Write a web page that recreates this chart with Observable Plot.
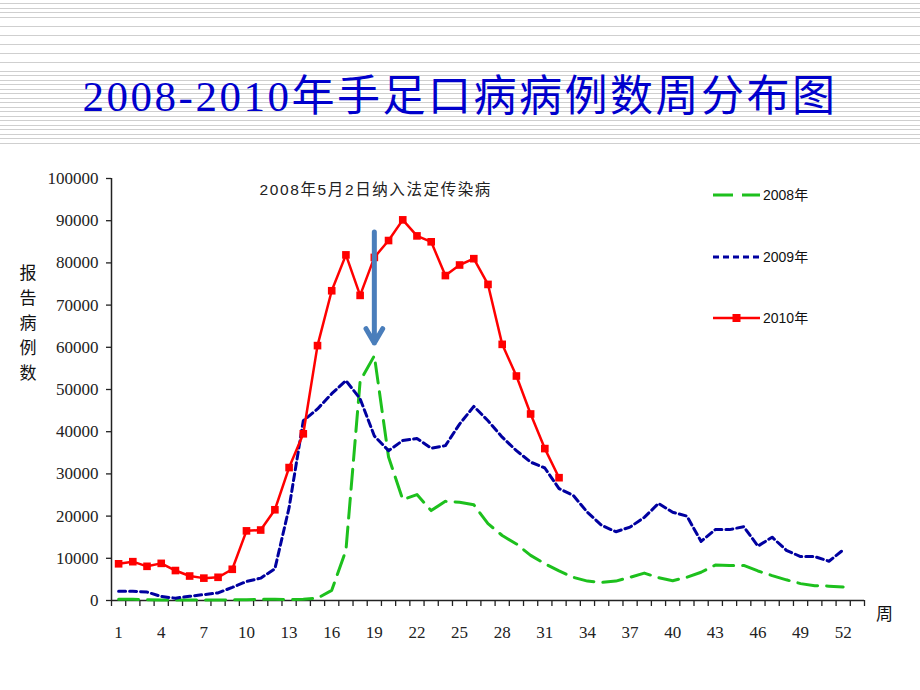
<!DOCTYPE html>
<html>
<head>
<meta charset="utf-8">
<script src="https://cdn.jsdelivr.net/npm/d3@7"></script>
<script src="https://cdn.jsdelivr.net/npm/@observablehq/plot@0.6"></script>
<style>
  html, body { margin: 0; padding: 0; background: #fff; }
  #page { position: relative; width: 920px; height: 690px; overflow: hidden; background: #fff; }
  #title {
    height: 145px; width: 920px;
    background: repeating-linear-gradient(to bottom, #fff 0px, #fff 3.5px, #cfcfcf 3.5px, #cfcfcf 4.5px);
    display: flex; align-items: flex-start; justify-content: center;
  }
  #title span {
    margin-top: 72px; line-height: 50px;
    font-family: "Liberation Serif", "DejaVu Serif", "Noto Sans CJK SC", serif;
    font-size: 43px; color: #0000CC; letter-spacing: 2.5px;
  }
  #ylabel { position: absolute; left: 18px; top: 259px; width: 20px;
    font-family: "Noto Sans CJK SC", sans-serif; font-size: 17px; line-height: 25px; color: #111; text-align: center; }
  #xunit { position: absolute; left: 876px; top: 600px;
    font-family: "Noto Sans CJK SC", sans-serif; font-size: 17px; color: #111; }
  .leg { position: absolute; left: 710px; width: 150px; height: 20px; }
  .leg span { position: absolute; left: 53px; top: 0px; font-family: "Liberation Sans Narrow", "Liberation Sans", "Noto Sans CJK SC", sans-serif; font-size: 14px; line-height: 20px; color: #111; }
  .leg svg { position: absolute; left: 0; top: 0; }
  #chart { position: absolute; left: 0; top: 145px; }
</style>
</head>
<body>
<div id="page">
  <div id="title"><span>2008-2010年手足口病病例数周分布图</span></div>
  <div id="chart"></div>
  <div id="ylabel">报<br>告<br>病<br>例<br>数</div>
  <div id="xunit">周</div>
  <div id="legend"></div>
</div>
<script>
// ---- data ----
const years = ["2008年", "2009年", "2010年"];
const weeks = d3.range(1, 53);
const cases2008 = [300, 300, 200, 100, 100, 100, 100, 100, 150, 200, 300, 300, 200, 300, 550, 2400, 11900, 52000, 58000, 34000,
  23900, 25100, 21300, 23500, 23300, 22700, 18200, 15400, 13400, 10700, 8700, 7000, 5500, 4600, 4300, 4600, 5500, 6500, 5400, 4700,
  5500, 6700, 8400, 8300, 8300, 7000, 5900, 4900, 4000, 3500, 3400, 3200];
const cases2009 = [2200, 2200, 2000, 950, 550, 1000, 1400, 1800, 3100, 4500, 5300, 7500, 22000, 42600, 45400, 49000, 52100, 47800, 39000, 35500,
  37900, 38400, 36100, 36700, 41800, 46000, 42600, 38700, 35500, 32800, 31400, 26500, 24900, 20900, 17800, 16300, 17400, 19700, 23000, 20900,
  20000, 14000, 16800, 16800, 17500, 12900, 15000, 11900, 10400, 10400, 9300, 12000];
const cases2010 = [8700, 9200, 8100, 8800, 7100, 5800, 5300, 5500, 7400, 16500, 16700, 21500, 31500, 39500, 60400, 73400, 81900, 72300, 81300, 85300,
  90200, 86400, 85000, 77000, 79500, 81000, 74900, 60700, 53200, 44200, 36000, 29100];
const yTicks = [0, 10000, 20000, 30000, 40000, 50000, 60000, 70000, 80000, 90000, 100000];
const xTickLabels = [1, 4, 7, 10, 13, 16, 19, 22, 25, 28, 31, 34, 37, 40, 43, 46, 49, 52];
const annotationText = ["2008年5月2日纳入法定传染病"];
const annotationWeek = [19.1];
const annotationValue = [97200];
const arrowWeek = [19];
const arrowFrom = [87300];
const arrowTo = [61000];

const colors = {"2008年": "#1DC01D", "2009年": "#0000A0", "2010年": "#FF0000"};

const toRows = (arr) => arr.map((v, i) => ({week: weeks[i], value: v}));
const d2008 = toRows(cases2008), d2009 = toRows(cases2009), d2010 = toRows(cases2010);
const annotations = annotationText.map((t, i) => ({text: t, week: annotationWeek[i], value: annotationValue[i]}));
const arrows = arrowWeek.map((w, i) => ({week: w, from: arrowFrom[i], to: arrowTo[i]}));

const tickFont = "'Liberation Serif', 'DejaVu Serif', serif";

const chart = Plot.plot({
  width: 920,
  height: 545,
  marginLeft: 111,
  marginRight: 56,
  marginTop: 33,
  marginBottom: 90,
  x: {domain: [0.5, 53.5]},
  y: {domain: [0, 100000]},
  style: {background: "transparent", color: "#222", fontFamily: tickFont, fontSize: "17px", overflow: "visible"},
  marks: [
    Plot.axisY({ticks: yTicks, tickSize: 5, tickPadding: 8, tickFormat: d => String(d), label: null, strokeWidth: 1.3, fontSize: 17}),
    Plot.axisX({ticks: d3.range(0.5, 54, 1), tickSize: 6, tickFormat: () => "", label: null, strokeWidth: 1.3}),
    Plot.axisX({ticks: xTickLabels, tickSize: 0, tickPadding: 25, label: null, fontSize: 17}),
    Plot.ruleY([0], {stroke: "#222", strokeWidth: 1.5}),
    Plot.ruleX([0.5], {stroke: "#222", strokeWidth: 1.5}),
    Plot.line(d2008, {x: "week", y: "value", stroke: colors["2008年"], strokeWidth: 3, strokeDasharray: "20,9"}),
    Plot.line(d2009, {x: "week", y: "value", stroke: colors["2009年"], strokeWidth: 3, strokeDasharray: "7,4"}),
    Plot.line(d2010, {x: "week", y: "value", stroke: colors["2010年"], strokeWidth: 2.5}),
    Plot.dot(d2010, {x: "week", y: "value", symbol: "square", r: 4.3, fill: colors["2010年"], stroke: "none"}),
    Plot.arrow(arrows, {x1: "week", x2: "week", y1: "from", y2: "to", stroke: "#4A7EBB", strokeWidth: 5, headLength: 5, headAngle: 60}),
    Plot.text(annotations, {x: "week", y: "value", text: "text", fill: "#222",
      fontFamily: "'Liberation Sans', 'Noto Sans CJK SC', sans-serif", fontSize: 15.5})
  ]
});
d3.select(chart).selectAll("g[aria-label='text'] text").attr("letter-spacing", "1.6px");
document.getElementById("chart").appendChild(chart);

// ---- legend ----
const legendTops = [185, 247, 308];
const legendEl = document.getElementById("legend");
years.forEach((yr, i) => {
  const div = document.createElement("div");
  div.className = "leg";
  div.style.top = legendTops[i] + "px";
  let inner = `<svg width="52" height="20">`;
  if (i === 0) inner += `<line x1="3" x2="50" y1="10" y2="10" stroke="${colors[yr]}" stroke-width="3" stroke-dasharray="20,9"/>`;
  if (i === 1) inner += `<line x1="3" x2="50" y1="10" y2="10" stroke="${colors[yr]}" stroke-width="3" stroke-dasharray="6,4"/>`;
  if (i === 2) inner += `<line x1="3" x2="50" y1="10" y2="10" stroke="${colors[yr]}" stroke-width="2.5"/><rect x="22.5" y="6" width="8" height="8" fill="${colors[yr]}"/>`;
  inner += `</svg><span>${yr}</span>`;
  div.innerHTML = inner;
  legendEl.appendChild(div);
});
</script>
</body>
</html>
